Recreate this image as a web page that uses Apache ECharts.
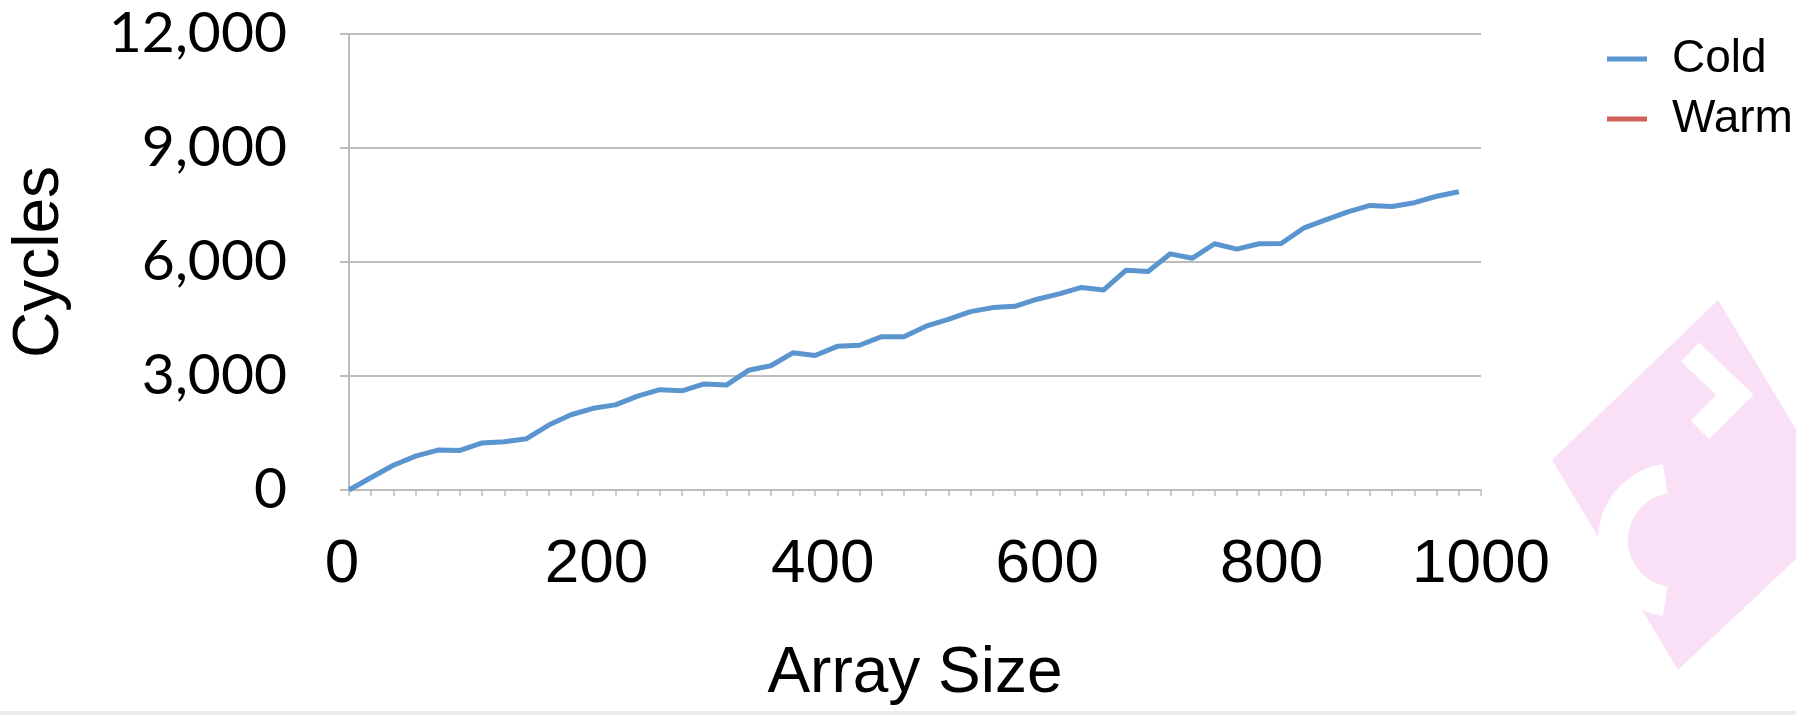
<!DOCTYPE html>
<html>
<head>
<meta charset="utf-8">
<script src="https://cdn.jsdelivr.net/npm/echarts@6/dist/echarts.min.js"></script>
<style>
html,body{margin:0;padding:0;background:#fff;}
#chart{width:1796px;height:715px;}
</style>
</head>
<body>
<div id="chart"></div>
<script>
// ---- data ----
const sampleIndex = ['1','2','3','4','5','6','7','8','9','10','11','12','13','14','15','16','17','18','19','20',
  '21','22','23','24','25','26','27','28','29','30','31','32','33','34','35','36','37','38','39','40',
  '41','42','43','44','45','46','47','48','49','50','51','52'];
const cold = [0, 330, 650, 890, 1050, 1040, 1240, 1270, 1350, 1710,
  1980, 2150, 2240, 2470, 2640, 2610, 2790, 2760, 3150, 3270,
  3610, 3540, 3780, 3810, 4035, 4035, 4310, 4490, 4695, 4800,
  4835, 5020, 5160, 5330, 5265, 5780, 5750, 6215, 6100, 6480,
  6340, 6480, 6485, 6890, 7110, 7320, 7490, 7460, 7560, 7730, 7850];
const warm = [];
const seriesNames = ['Cold', 'Warm'];
const xTickLabels = [0, 200, 400, 600, 800, 1000];
const yTickLabels = [0, 3000, 6000, 9000, 12000];

// ---- styling ----
const GRID = '#bdbdbd';
const labelShift = [-7, 21, 21, 19, 17, 0];
const xRich = {};
labelShift.forEach(function (d, i) {
  xRich['s' + i] = {
    fontFamily: 'Liberation Sans', fontSize: 62, color: '#000',
    padding: d >= 0 ? [0, 0, 0, 2 * d] : [0, -2 * d, 0, 0]
  };
});

const chart = echarts.init(document.getElementById('chart'), null, {renderer: 'canvas'});
chart.setOption({
  animation: false,
  backgroundColor: '#ffffff',
  grid: {left: 346, top: 34, right: 315, bottom: 225, containLabel: false},
  legend: {
    orient: 'vertical', left: 1602, top: 31, itemGap: 14,
    icon: 'rect', itemWidth: 40, itemHeight: 5,
    data: seriesNames,
    textStyle: {fontFamily: 'Liberation Sans', fontSize: 46, color: '#000', padding: [0, 0, 0, 20]}
  },
  xAxis: [{
    type: 'category', data: sampleIndex, boundaryGap: false, position: 'bottom',
    axisLine: {show: true, lineStyle: {color: GRID, width: 2}},
    axisTick: {show: true, interval: 0, length: 6, lineStyle: {color: GRID, width: 1.5}},
    axisLabel: {show: false},
    splitLine: {show: false},
    name: 'Array Size', nameLocation: 'middle', nameGap: 152,
    nameTextStyle: {fontFamily: 'Liberation Sans', fontSize: 64, color: '#000'}
  }, {
    type: 'value', position: 'bottom',
    min: xTickLabels[0], max: xTickLabels[xTickLabels.length - 1],
    interval: xTickLabels[1] - xTickLabels[0],
    axisLine: {show: false}, axisTick: {show: false}, splitLine: {show: false},
    axisLabel: {
      show: true, margin: 44,
      formatter: function (v) {
        const i = xTickLabels.indexOf(v);
        return '{s' + i + '|' + v + '}';
      },
      rich: xRich
    }
  }],
  yAxis: {
    type: 'value',
    min: yTickLabels[0], max: yTickLabels[yTickLabels.length - 1],
    interval: yTickLabels[1] - yTickLabels[0],
    axisLine: {show: true, lineStyle: {color: GRID, width: 2}},
    axisTick: {show: true, length: 9, lineStyle: {color: GRID, width: 2}},
    splitLine: {show: true, lineStyle: {color: GRID, width: 2}},
    axisLabel: {
      margin: 62, fontFamily: 'Lato', fontSize: 57, color: '#000',
      formatter: function (v) { return v.toLocaleString('en-US'); }
    },
    name: 'Cycles', nameLocation: 'middle', nameRotate: 90, nameGap: 277,
    nameTextStyle: {fontFamily: 'Liberation Sans', fontSize: 64, color: '#000'}
  },
  series: [{
    name: seriesNames[0], type: 'line', xAxisIndex: 0, data: cold,
    showSymbol: false, symbol: 'none',
    lineStyle: {color: '#5a95cf', width: 5, join: 'round'}, itemStyle: {color: '#5a95cf'}
  }, {
    name: seriesNames[1], type: 'line', xAxisIndex: 0, data: warm,
    showSymbol: false, symbol: 'none',
    lineStyle: {color: '#d2605a', width: 5}, itemStyle: {color: '#d2605a'}
  }],
  graphic: [{
    type: 'polygon', silent: true, z: -10,
    shape: {points: [[1552, 460], [1718, 300], [1846, 512], [1678, 670]]},
    style: {fill: '#f9e0f6'}
  }, {
    type: 'arc', silent: true, z: -9,
    shape: {cx: 1675, cy: 540, r: 62, startAngle: Math.PI * 0.55, endAngle: Math.PI * 1.45},
    style: {stroke: '#ffffff', lineWidth: 30, fill: 'none'}
  }, {
    type: 'polyline', silent: true, z: -9,
    shape: {points: [[1690, 352], [1735, 395], [1700, 430]]},
    style: {stroke: '#ffffff', lineWidth: 26, fill: 'none'}
  }, {
    type: 'rect', silent: true, z: -9,
    shape: {x: 0, y: 711, width: 1796, height: 4},
    style: {fill: '#e8eef0'}
  }]
});
</script>
</body>
</html>
